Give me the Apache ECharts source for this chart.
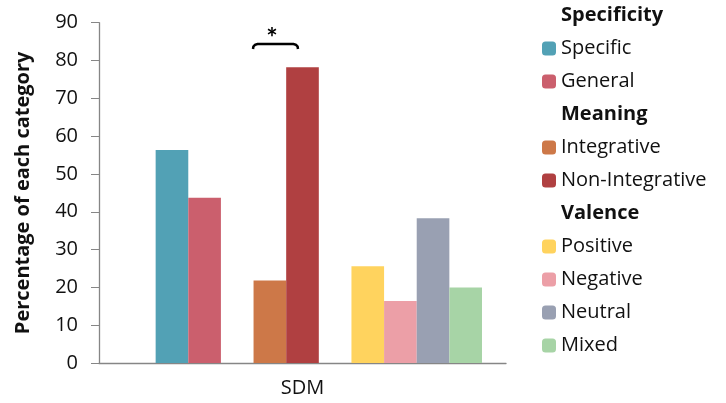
<!DOCTYPE html>
<html><head><meta charset="utf-8">
<script src="https://cdn.jsdelivr.net/npm/echarts@6/dist/echarts.min.js"></script>
<style>html,body{margin:0;padding:0;background:#fff}#c{width:726px;height:403px}</style>
</head><body><div id="c"></div>
<script>
var categories = ['SDM'];
var seriesNames = ['Specificity','Specific','General','Meaning','Integrative','Non-Integrative','Valence','Positive','Negative','Neutral','Mixed'];
var seriesValues = [null, 56.3, 43.7, null, 21.8, 78.2, null, 25.6, 16.4, 38.3, 20.0];
var seriesColors = ['rgba(0,0,0,0)','#52A1B5','#CB5F6D','rgba(0,0,0,0)','#CD7848','#B04041','rgba(0,0,0,0)','#FFD35E','#EC9FA7','#99A0B2','#A7D4A6'];
var headers = ['Specificity','Meaning','Valence'];
var yTicks = [0,10,20,30,40,50,60,70,80,90];
var font = 'Open Sans';
var fs = 20;

var chart = echarts.init(document.getElementById('c'), null, {renderer:'canvas'});
var series = seriesNames.map(function(n,i){
  return {name:n, type:'bar', data:[seriesValues[i]], barGap:'0%', barCategoryGap:'11.8%',
    itemStyle:{color:seriesColors[i]}, animation:false};
});
chart.setOption({
  animation:false,
  textStyle:{fontFamily:font},
  grid:{left:99, right:220, top:22.7, bottom:40, containLabel:false},
  legend:{orient:'vertical', left:542, top:5.5, padding:0, itemWidth:14, itemHeight:14, itemGap:13,
    selectedMode:false,
    textStyle:{fontFamily:font, fontSize:fs, lineHeight:20, color:'#111'},
    data: seriesNames.map(function(n){
      if (headers.indexOf(n) >= 0) return {name:n, itemStyle:{opacity:0}, textStyle:{fontWeight:'bold', fontFamily:font, fontSize:fs, lineHeight:20, color:'#111'}};
      return {name:n};
    })
  },
  xAxis:{type:'category', data:categories,
    axisLine:{lineStyle:{color:'#868686', width:1.3}},
    axisTick:{show:false},
    axisLabel:{fontFamily:font, fontSize:fs, color:'#111', margin:15}
  },
  yAxis:{type:'value', min:yTicks[0], max:yTicks[yTicks.length-1], interval:10,
    name:'Percentage of each category', nameLocation:'middle', nameGap:66,
    nameTextStyle:{fontFamily:font, fontSize:fs, fontWeight:'bold', color:'#111'},
    axisLine:{show:true, lineStyle:{color:'#868686', width:1.3}},
    axisTick:{show:true, length:8, lineStyle:{color:'#868686'}},
    splitLine:{show:false},
    axisLabel:{fontFamily:font, fontSize:fs, color:'#111', margin:21}
  },
  graphic:[
    {type:'polyline', shape:{points:[[253,49],[253.4,46.5],[255,44.8],[257.5,44],[293.5,44],[296,44.8],[297.6,46.5],[298,49]]},
     style:{stroke:'#000', lineWidth:2.5, fill:null}},
    {type:'text', x:272, y:38, style:{text:'*', font:'bold 27px Lato', fill:'#000', align:'center', verticalAlign:'middle'}}
  ],
  series:series
});
</script></body></html>
